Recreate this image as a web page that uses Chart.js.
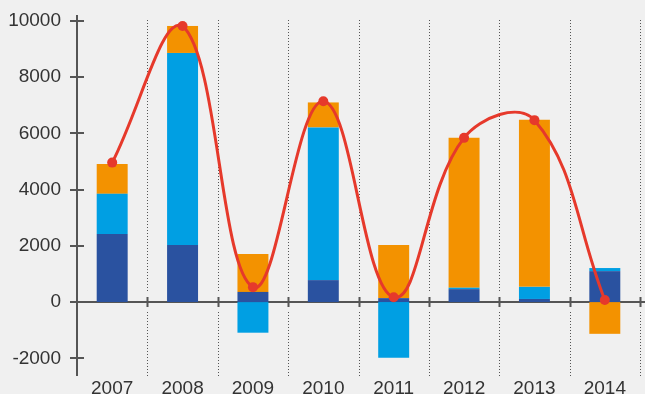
<!DOCTYPE html>
<html>
<head>
<meta charset="utf-8">
<script src="https://cdn.jsdelivr.net/npm/chart.js@4/dist/chart.umd.min.js"></script>
<style>
  html, body { margin: 0; padding: 0; background: #f0f0f0; }
  #wrap { width: 645px; height: 394px; }
</style>
</head>
<body>
<div id="wrap"><canvas id="mainChart" width="645" height="394"></canvas></div>
<script>
// Stacked components per year plus the net line
const years = ['2007', '2008', '2009', '2010', '2011', '2012', '2013', '2014'];
const darkBlue = [2420, 2030, 360, 780, 140, 460, 110, 1100];
const lightBlue = [1430, 6830, -1090, 5430, -1980, 50, 430, 110];
const orange = [1060, 960, 1350, 890, 1890, 5330, 5940, -1130];
const netLine = [4960, 9820, 530, 7140, 170, 5840, 6470, 75];
const yTicks = [-2000, 0, 2000, 4000, 6000, 8000, 10000];

const AXIS = '#555555';
const LABEL_FONT = { family: "'Liberation Sans', Arial, sans-serif", size: 19 };

// axes, zero line and dotted year dividers, drawn under the bars
const framePlugin = {
    id: 'frame',
    beforeDatasetsDraw(chart) {
        const { ctx, chartArea: a, scales: { x, y } } = chart;
        const y0 = Math.round(y.getPixelForValue(0));
        const n = years.length;
        const edges = [];
        for (let i = 1; i <= n; i++) {
            edges.push(i < n ? (x.getPixelForTick(i - 1) + x.getPixelForTick(i)) / 2 : a.right);
        }
        ctx.save();

        ctx.strokeStyle = AXIS;
        ctx.lineWidth = 1;
        ctx.setLineDash([1, 2]);
        edges.forEach(ex => {
            const px = Math.round(ex) + 0.5;
            ctx.beginPath();
            ctx.moveTo(px, a.top + 5);
            ctx.lineTo(px, y0 - 11);
            ctx.moveTo(px, y0 + 10);
            ctx.lineTo(px, a.bottom);
            ctx.stroke();
        });
        ctx.setLineDash([]);

        ctx.lineWidth = 2;
        // y axis with ticks crossing it
        ctx.beginPath();
        ctx.moveTo(a.left, a.top);
        ctx.lineTo(a.left, a.bottom);
        yTicks.forEach(v => {
            const py = Math.round(y.getPixelForValue(v));
            ctx.moveTo(a.left - 7, py);
            ctx.lineTo(a.left + 7, py);
        });
        ctx.stroke();

        // zero line with short ticks at the dividers
        ctx.beginPath();
        ctx.moveTo(a.left - 7, y0);
        ctx.lineTo(chart.width, y0);
        edges.forEach(ex => {
            const px = Math.round(ex) + 0.5;
            ctx.moveTo(px, y0 - 5);
            ctx.lineTo(px, y0 + 5);
        });
        ctx.stroke();
        ctx.restore();
    }
};

const barStyle = { categoryPercentage: 1, barPercentage: 0.44, borderWidth: 0, order: 2 };

new Chart(document.getElementById('mainChart'), {
    type: 'bar',
    data: {
        labels: years,
        datasets: [
            { ...barStyle, label: 'A', data: darkBlue, backgroundColor: '#2a52a0' },
            { ...barStyle, label: 'B', data: lightBlue, backgroundColor: '#009fe3' },
            { ...barStyle, label: 'C', data: orange, backgroundColor: '#f39200' },
            {
                type: 'line',
                label: 'Net',
                data: netLine,
                order: 1,
                borderColor: '#e6392b',
                backgroundColor: '#e6392b',
                borderWidth: 3,
                tension: 0.4,
                pointRadius: 5,
                pointBorderWidth: 0,
                fill: false
            }
        ]
    },
    options: {
        responsive: false,
        animation: false,
        layout: { padding: { top: 15, right: 2, left: 0, bottom: 0 } },
        plugins: { legend: { display: false }, tooltip: { enabled: false } },
        scales: {
            x: {
                stacked: true,
                grid: { display: false },
                border: { display: false },
                ticks: { font: LABEL_FONT, color: '#333333', padding: -7, maxRotation: 0 },
                afterFit(scale) {
                    scale.height = 18;
                    scale.paddingLeft = 0;
                    scale.paddingRight = 0;
                }
            },
            y: {
                stacked: true,
                min: -2630,
                max: 10210,
                grid: { display: false, drawTicks: false },
                border: { display: false },
                ticks: {
                    font: LABEL_FONT,
                    color: '#333333',
                    padding: 16,
                    callback: v => String(v)
                },
                afterBuildTicks(axis) { axis.ticks = yTicks.map(v => ({ value: v })); },
                afterFit(scale) {
                    scale.width = 77;
                    scale.paddingTop = 0;
                    scale.paddingBottom = 0;
                }
            }
        }
    },
    plugins: [framePlugin]
});
</script>
</body>
</html>
